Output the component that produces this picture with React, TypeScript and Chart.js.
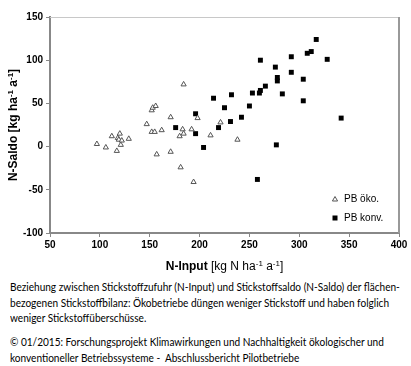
import React, { useEffect, useRef } from "react";
import { Chart, registerables } from "chart.js";
Chart.register(...registerables);

// PB öko. (N-Input, N-Saldo)
const okoInput = [97, 106, 112, 120, 118, 119, 122, 121, 117, 129, 147, 152, 155, 162, 157, 171, 171, 152, 153, 156, 184, 180, 183, 184, 181, 192, 198, 194, 211, 221, 238];
const okoSaldo = [3, -1, 12, 15, 10, 8, 7, 2, -5, 9, 26, 17, 17, 19, -9, 34, -6, 42, 45, 47, 72, 12, 20, 15, -24, 20, 33, -41, 13, 28, 8];

// PB konv. (N-Input, N-Saldo)
const konvInput = [176, 196, 196, 204, 214, 219, 225, 231, 232, 242, 250, 253, 258, 261, 261, 260, 266, 276, 278, 278, 277, 283, 292, 292, 304, 304, 308, 312, 317, 328, 342];
const konvSaldo = [22, 38, 15, -1, 56, 22, 45, 29, 60, 34, 47, 62, -38, 100, 65, 62, 70, 92, 80, 76, 2, 61, 104, 86, 78, 53, 108, 110, 124, 101, 33];

const xTickValues = [50, 100, 150, 200, 250, 300, 350, 400];
const yTickValues = [-100, -50, 0, 50, 100, 150];
const seriesLabels = ["PB öko.", "PB konv."];

type Part = { t: string; bold?: boolean; sup?: boolean };
const xTitle: Part[] = [
  { t: "N-Input ", bold: true },
  { t: "[kg N ha" },
  { t: "-1", sup: true },
  { t: " a" },
  { t: "-1", sup: true },
  { t: "]" },
];
const yTitle: Part[] = [
  { t: "N-Saldo ", bold: true },
  { t: "[kg ha", bold: true },
  { t: "-1", sup: true, bold: true },
  { t: " a", bold: true },
  { t: "-1", sup: true, bold: true },
  { t: "]", bold: true },
];

const FONT = "'Liberation Sans', Arial, sans-serif";

function fontFor(p: Part) {
  const size = p.sup ? 8 : 12;
  return `${p.bold ? "bold " : ""}${size}px ${FONT}`;
}

function drawRich(ctx: CanvasRenderingContext2D, parts: Part[], cx: number, cy: number, rot: number) {
  ctx.save();
  ctx.translate(cx, cy);
  ctx.rotate(rot);
  let w = 0;
  for (const p of parts) {
    ctx.font = fontFor(p);
    w += ctx.measureText(p.t).width;
  }
  let x = -w / 2;
  ctx.fillStyle = "#000";
  ctx.textBaseline = "alphabetic";
  for (const p of parts) {
    ctx.font = fontFor(p);
    ctx.fillText(p.t, x, p.sup ? 0 : 4);
    x += ctx.measureText(p.t).width;
  }
  ctx.restore();
}

const decorPlugin = {
  id: "decor",
  afterDraw(chart: any) {
    const { ctx, chartArea } = chart;
    ctx.save();
    // top and right border of plot area
    ctx.strokeStyle = "#c8c8c8";
    ctx.lineWidth = 1;
    ctx.beginPath();
    ctx.moveTo(chartArea.left, chartArea.top + 0.5);
    ctx.lineTo(chartArea.right, chartArea.top + 0.5);
    ctx.stroke();
    ctx.strokeStyle = "#999";
    ctx.lineWidth = 2;
    ctx.beginPath();
    ctx.moveTo(chartArea.right, chartArea.top);
    ctx.lineTo(chartArea.right, chartArea.bottom);
    ctx.stroke();

    // legend inside plot
    const lx = chartArea.right - 64;
    const ly1 = chartArea.bottom - 34;
    const ly2 = chartArea.bottom - 15;
    ctx.fillStyle = "#fff";
    ctx.strokeStyle = "#555";
    ctx.lineWidth = 1;
    ctx.beginPath();
    ctx.moveTo(lx, ly1 - 2.5);
    ctx.lineTo(lx + 2.6, ly1 + 2);
    ctx.lineTo(lx - 2.6, ly1 + 2);
    ctx.closePath();
    ctx.fill();
    ctx.stroke();
    ctx.fillStyle = "#000";
    ctx.fillRect(lx - 2.5, ly2 - 2.5, 5, 5);
    ctx.font = `10px ${FONT}`;
    ctx.textBaseline = "middle";
    ctx.textAlign = "left";
    ctx.fillStyle = "#000";
    ctx.fillText(seriesLabels[0], lx + 9, ly1);
    ctx.fillText(seriesLabels[1], lx + 9, ly2);

    // axis titles
    drawRich(ctx, xTitle, (chartArea.left + chartArea.right) / 2, 266, 0);
    drawRich(ctx, yTitle, 13, (chartArea.top + chartArea.bottom) / 2, -Math.PI / 2);
    ctx.restore();
  },
};

const CANVAS_H = 278;

export default function App() {
  const ref = useRef<HTMLCanvasElement | null>(null);
  useEffect(() => {
    document.body.style.margin = "0";
    if (!ref.current) return;
    const chart = new Chart(ref.current, {
      type: "scatter",
      data: {
        datasets: [
          {
            label: seriesLabels[0],
            data: okoInput.map((x, i) => ({ x, y: okoSaldo[i] })),
            pointStyle: "triangle",
            radius: 3,
            borderWidth: 1,
            borderColor: "#555",
            backgroundColor: "#fff",
          },
          {
            label: seriesLabels[1],
            data: konvInput.map((x, i) => ({ x, y: konvSaldo[i] })),
            pointStyle: "rect",
            radius: 3.5,
            borderWidth: 0,
            borderColor: "#000",
            backgroundColor: "#000",
          },
        ],
      },
      options: {
        animation: false,
        responsive: false,
        layout: { padding: { top: 17, right: 12, left: 0, bottom: 0 } },
        plugins: { legend: { display: false }, tooltip: { enabled: false } },
        scales: {
          x: {
            type: "linear",
            min: 50,
            max: 400,
            afterBuildTicks: (s: any) => {
              s.ticks = xTickValues.map((v) => ({ value: v }));
            },
            afterFit: (s: any) => {
              s.height = CANVAS_H - 233;
            },
            ticks: { color: "#000", font: { family: FONT, size: 10, weight: "bold" }, padding: 2 },
            grid: { drawOnChartArea: false, drawTicks: true, tickLength: 4, color: "#888" },
            border: { display: true, color: "#888", width: 2 },
          },
          y: {
            type: "linear",
            min: -100,
            max: 150,
            afterBuildTicks: (s: any) => {
              s.ticks = yTickValues.map((v) => ({ value: v }));
            },
            afterFit: (s: any) => {
              s.width = 50;
            },
            ticks: { color: "#000", font: { family: FONT, size: 10, weight: "bold" }, padding: 3 },
            grid: { drawOnChartArea: false, drawTicks: true, tickLength: 4, color: "#888" },
            border: { display: true, color: "#888", width: 2 },
          },
        },
      },
      plugins: [decorPlugin],
    } as any);
    return () => chart.destroy();
  }, []);

  const cap: React.CSSProperties = {
    fontFamily: "Lato, 'Open Sans', sans-serif",
    fontSize: "11px",
    lineHeight: "15.5px",
    color: "#000",
    whiteSpace: "nowrap",
    margin: 0,
    position: "absolute",
    left: 10,
    transform: "scaleX(0.915)",
    transformOrigin: "0 0",
  };

  return (
    <div style={{ position: "relative", width: 411, height: 366, background: "#fff", overflow: "hidden" }}>
      <canvas ref={ref} width={411} height={CANVAS_H} style={{ display: "block" }} />
      <p style={{ ...cap, top: 279 }}>
        Beziehung zwischen Stickstoffzufuhr (N-Input) und Stickstoffsaldo (N-Saldo) der flächen-
        <br />
        bezogenen Stickstoffbilanz: Ökobetriebe düngen weniger Stickstoff und haben folglich
        <br />
        weniger Stickstoffüberschüsse.
      </p>
      <p style={{ ...cap, top: 334 }}>
        © 01/2015: Forschungsprojekt Klimawirkungen und Nachhaltigkeit ökologischer und
        <br />
        konventioneller Betriebssysteme -&nbsp; Abschlussbericht Pilotbetriebe
      </p>
    </div>
  );
}
